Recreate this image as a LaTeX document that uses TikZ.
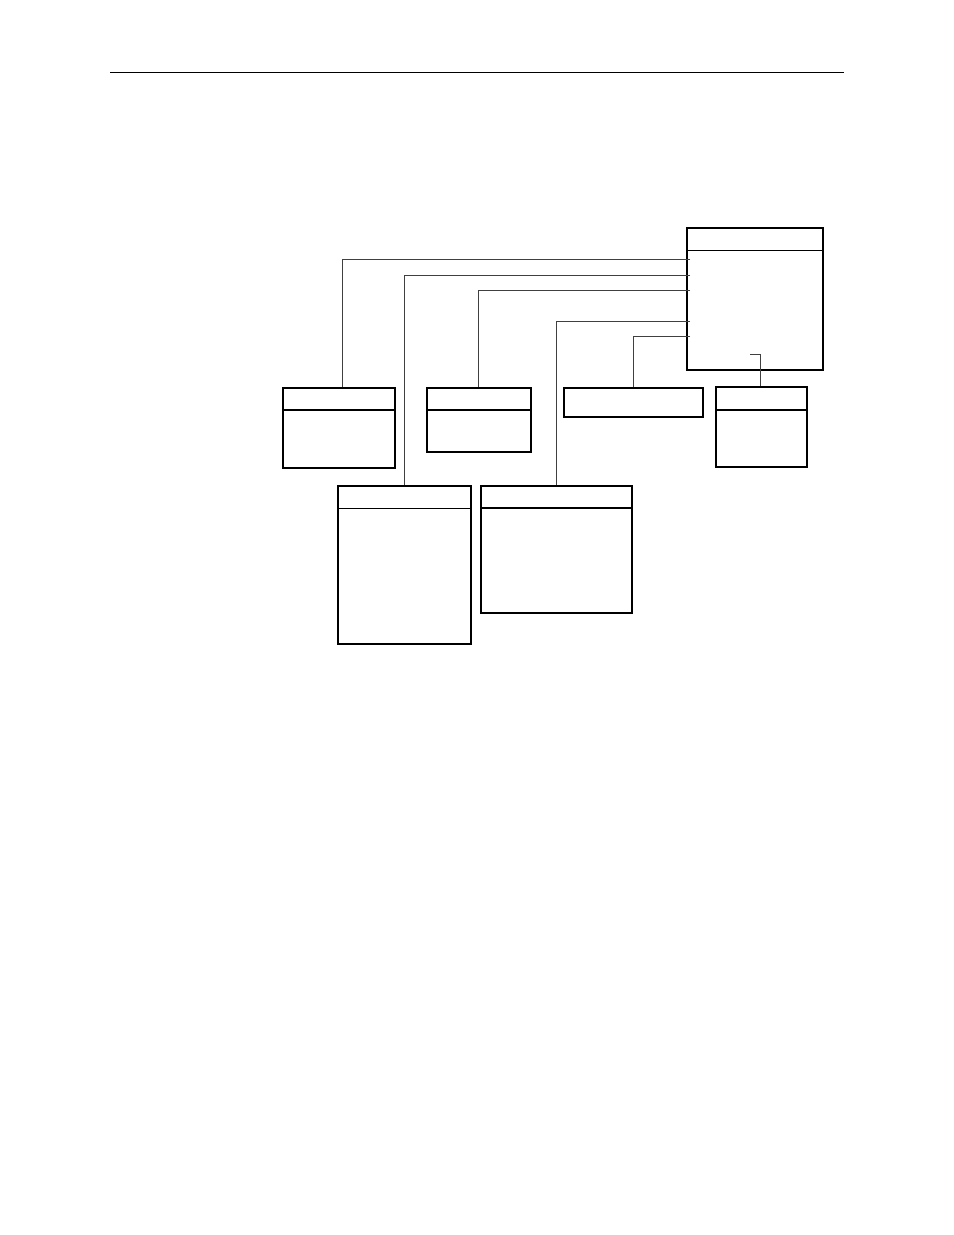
\documentclass[tikz,border=0pt]{standalone}
\begin{document}
\begin{tikzpicture}[x=1bp,y=-1bp,
  cls/.style={draw=black,line width=1.8bp,fill=white,inner sep=0pt,anchor=north west},
  hdr/.style={draw=black,line width=1.2bp},
  hdrthin/.style={draw=black,line width=0.8bp},
  wire/.style={draw=black!75,line width=0.8bp}]
\useasboundingbox (0,0) rectangle (954,1235);
\draw[line width=0.6bp] (110,72) -- (844,72);
% boxes
\node[cls,minimum width=136bp,minimum height=142bp] (M) at (686,227) {};
\node[cls,minimum width=112bp,minimum height=80bp] (A) at (282,387) {};
\node[cls,minimum width=104bp,minimum height=64bp] (B) at (426,387) {};
\node[cls,minimum width=139bp,minimum height=29bp] (C) at (563,387) {};
\node[cls,minimum width=91bp,minimum height=80bp] (F) at (715,386) {};
\node[cls,minimum width=133bp,minimum height=158bp] (D) at (337,485) {};
\node[cls,minimum width=151bp,minimum height=127bp] (E) at (480,485) {};
% headers
\draw[hdrthin] ([yshift=-23bp]M.north west) -- ([yshift=-23bp]M.north east);
\draw[hdr] ([yshift=-23bp]A.north west) -- ([yshift=-23bp]A.north east);
\draw[hdr] ([yshift=-23bp]B.north west) -- ([yshift=-23bp]B.north east);
\draw[hdr] ([yshift=-24bp]F.north west) -- ([yshift=-24bp]F.north east);
\draw[hdrthin] ([yshift=-23bp]D.north west) -- ([yshift=-23bp]D.north east);
\draw[hdr] ([yshift=-23bp]E.north west) -- ([yshift=-23bp]E.north east);
% ports
\coordinate (p1) at (690,259);
\coordinate (p2) at (690,275);
\coordinate (p3) at (690,290);
\coordinate (p4) at (690,321);
\coordinate (p5) at (690,336);
\coordinate (p6) at (750,354);
% connectors
\draw[wire] (p1) -| ([xshift=3bp]A.north);
\draw[wire] (p2) -| (D.north);
\draw[wire] (p3) -| ([xshift=-1bp]B.north);
\draw[wire] (p4) -| (E.north);
\draw[wire] (p5) -| (C.north);
\draw[wire] (p6) -| ([xshift=-1.5bp]F.north);
\end{tikzpicture}
\end{document}
